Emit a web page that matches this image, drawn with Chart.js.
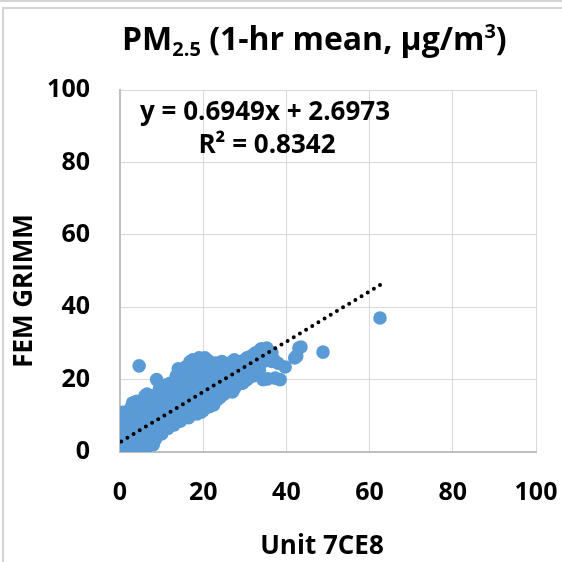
<!DOCTYPE html>
<html>
<head>
<meta charset="utf-8">
<script src="https://cdn.jsdelivr.net/npm/chart.js@4.4.1/dist/chart.umd.min.js"></script>
<style>
  html, body { margin: 0; padding: 0; background: #fff; }
  #wrap { width: 562px; height: 562px; }
</style>
</head>
<body>
<div id="wrap"><canvas id="chart" width="562" height="562"></canvas></div>
<script>
// Unit 7CE8 (x) vs FEM GRIMM (y), 1-hr mean PM2.5
const xVals = [
  0.2, 0.3, 0.5, 0.2, 0.6, 0.4, 0.8, 0.5, 0.7, 1.2, 1.5, 1.3, 1.8, 1.6, 2.0, 1.0,
  2.5, 3.0, 2.8, 3.5, 3.2, 3.8, 4.0, 4.5, 4.2, 4.8, 5.0, 4.6, 5.2, 5.0, 5.5, 5.3, 6.0, 4.6,
  6.0, 6.5, 7.0, 6.8, 7.2, 7.5, 7.0, 7.8, 8.0, 6.5, 8.0, 8.5, 9.0, 8.8, 9.3, 9.5, 9.0, 9.8, 10.0, 8.8, 9.5, 10.5, 11.0, 10.8,
  11.5, 11.0, 12.0, 11.8, 12.5, 12.0, 12.5, 13.0, 13.5, 13.0, 14.0, 13.5, 14.5, 14.0, 15.0, 14.5, 15.0, 15.5, 16.0, 15.8, 16.5, 16.0, 16.8, 16.5, 17.0, 16.8, 17.5, 15.8,
  17.5, 18.0, 18.5, 18.0, 19.0, 18.5, 19.5, 19.0, 20.0, 20.4, 19.5, 20.0, 20.5, 21.0, 20.8, 21.5, 21.0, 22.0, 21.5, 22.4, 21.0, 23.3,
  22.5, 23.3, 23.0, 24.0, 23.5, 24.5, 24.0, 25.0, 25.5, 26.0, 25.5, 26.5, 26.9, 27.0, 27.5, 28.0, 28.5, 28.0, 29.0, 29.5, 30.0, 30.5, 30.0, 31.0, 31.5, 32.0, 32.5, 32.5, 33.0, 33.7, 34.0, 34.5, 35.3, 35.5, 36.0, 36.5, 37.0, 38.0,
  2.5, 3.0, 6.0, 10.0, 11.0, 12.0, 13.5, 13.5, 12.8, 14.0, 16.5, 18.0, 18.5, 17.5, 19.0, 20.5, 22.0, 23.5, 25.0, 24.5, 26.0, 27.5, 28.0, 29.0, 30.0, 31.5, 33.0, 34.0, 35.0, 36.5,
  10.0, 11.5, 13.0, 14.5, 16.5, 18.5, 19.5, 21.5, 22.0, 24.0, 25.5, 26.0, 27.5, 29.5, 30.5, 32.0, 33.5, 33.0,
  1.0, 2.0, 3.5, 5.0, 6.0, 7.0, 8.5, 9.5, 3.5, 5.5, 6.5, 4.0,
  34.4, 35.5, 37.3, 38.5, 39.7, 42.0, 42.5, 43.0, 43.5, 48.8, 62.5
];
const yVals = [
  0.5, 1.5, 2.5, 3.5, 4.5, 6.0, 7.5, 9.0, 11.0, 1.0, 2.5, 4.0, 5.5, 7.0, 8.5, 10.0,
  1.5, 3.0, 5.0, 6.5, 8.0, 9.5, 11.0, 12.0, 2.5, 4.0, 5.5, 7.0, 8.5, 10.0, 11.5, 13.0, 14.5, 23.8,
  3.0, 5.0, 6.5, 8.0, 9.5, 11.0, 12.5, 14.0, 15.5, 16.0, 2.0, 5.0, 7.0, 8.5, 10.0, 12.0, 13.5, 15.0, 16.5, 20.0, 17.5, 6.0, 8.0, 9.5,
  11.0, 12.5, 14.0, 15.5, 17.0, 18.0, 7.5, 9.0, 10.5, 12.0, 13.5, 15.0, 16.5, 18.0, 19.5, 20.5, 22.6, 9.5, 11.0, 12.5, 14.0, 15.5, 17.0, 18.5, 20.0, 24.9, 22.0, 23.5,
  10.5, 12.0, 13.5, 15.0, 16.5, 18.0, 19.5, 21.0, 22.5, 26.0, 24.5, 11.5, 13.0, 14.5, 16.0, 17.5, 19.0, 20.5, 22.0, 24.6, 25.4, 24.6,
  13.0, 14.4, 16.0, 17.5, 19.0, 20.5, 22.0, 16.0, 18.0, 19.5, 21.0, 22.5, 24.9, 16.6, 18.5, 20.0, 21.5, 23.0, 19.0, 21.0, 22.5, 26.0, 24.0, 20.5, 22.0, 23.5, 25.0, 27.3, 24.0, 28.2, 26.5, 25.0, 28.7, 27.0, 26.0, 25.0, 25.5, 24.5,
  12.0, 13.5, 15.5, 17.5, 18.5, 19.0, 21.0, 19.0, 16.0, 23.0, 21.5, 23.5, 25.5, 25.5, 26.0, 24.0, 23.0, 23.5, 23.5, 25.0, 24.0, 25.5, 24.5, 25.0, 25.5, 26.5, 27.0, 28.5, 28.0, 27.5,
  5.0, 6.5, 7.5, 8.5, 9.5, 10.5, 11.0, 12.5, 14.0, 15.0, 16.5, 18.0, 17.5, 19.0, 20.0, 21.0, 22.5, 23.0,
  0.5, 1.0, 1.5, 2.5, 2.0, 3.5, 3.5, 5.0, 0.8, 1.2, 1.5, 14.0,
  20.0, 20.2, 20.4, 20.0, 23.5, 26.0, 26.5, 28.7, 29.0, 27.6, 37.0
];
const axisTicks = [0, 20, 40, 60, 80, 100];
// Excel linear trendline as printed on the chart
const trendSlope = 0.6949;
const trendIntercept = 2.6973;
const trendFrom = 0.3, trendTo = 63;

const points = xVals.map((x, i) => ({ x: x, y: yVals[i] }));
const trend = [trendFrom, trendTo].map(x => ({ x: x, y: trendSlope * x + trendIntercept }));

const FONT = '"Open Sans"';
Chart.defaults.font.family = FONT;
Chart.defaults.color = '#000';

const textPlugin = {
  id: 'texts',
  beforeDraw(chart) {
    const c = chart.ctx;
    c.save();
    c.strokeStyle = '#d4d4d4';
    c.lineWidth = 2;
    c.beginPath();
    c.moveTo(0, 1); c.lineTo(562, 1);
    c.moveTo(3, 562); c.lineTo(3, 8); c.lineTo(562, 8);
    c.stroke();
    c.restore();
  },
  afterDraw(chart) {
    const c = chart.ctx;
    c.save();
    c.fillStyle = '#000';
    c.textBaseline = 'alphabetic';
    c.textAlign = 'left';
    // title with subscript / superscript
    let x = 122;
    const base = 50;
    const big = 'bold 32px ' + FONT, small = 'bold 20px ' + FONT;
    c.font = big;
    c.fillText('PM', x, base); x += c.measureText('PM').width;
    c.font = small;
    c.fillText('2.5', x, base + 6); x += c.measureText('2.5').width;
    c.font = big;
    c.fillText(' (1-hr mean, \u00b5g/m', x, base); x += c.measureText(' (1-hr mean, \u00b5g/m').width;
    c.font = small;
    c.fillText('3', x, base - 12); x += c.measureText('3').width;
    c.font = big;
    c.fillText(')', x, base);

    // trendline equation
    c.textAlign = 'center';
    c.font = 'bold 26px ' + FONT;
    c.fillText('y = 0.6949x + 2.6973', 265, 120);
    c.fillText('R\u00b2 = 0.8342', 267, 153);

    // axis titles
    c.textBaseline = 'middle';
    c.font = 'bold 26px ' + FONT;
    c.fillText('Unit 7CE8', 322, 547);
    c.translate(25, 291);
    c.rotate(-Math.PI / 2);
    c.fillText('FEM GRIMM', 0, 0);
    c.restore();
  }
};

new Chart(document.getElementById('chart'), {
  type: 'scatter',
  data: {
    datasets: [
      {
        type: 'line',
        label: 'Linear trend',
        data: trend,
        borderColor: '#000',
        borderWidth: 4,
        borderDash: [0, 7.2],
        borderCapStyle: 'round',
        pointRadius: 0,
        fill: false,
        order: 0
      },
      {
        label: 'PM2.5',
        data: points,
        backgroundColor: '#5b9bd5',
        borderColor: '#5b9bd5',
        borderWidth: 0,
        pointRadius: 6.8,
        pointHoverRadius: 6.8,
        order: 1
      }
    ]
  },
  options: {
    responsive: false,
    animation: false,
    events: [],
    layout: { padding: { top: 90, right: 26, left: 0, bottom: 0 } },
    plugins: { legend: { display: false }, tooltip: { enabled: false }, title: { display: false } },
    scales: {
      x: {
        type: 'linear',
        min: 0, max: 100,
        afterBuildTicks(s) { s.ticks = axisTicks.map(v => ({ value: v })); },
        ticks: { font: { size: 25, weight: 'bold' }, color: '#000', padding: 26 },
        grid: { color: '#d9d9d9', lineWidth: 1, drawTicks: false },
        border: { color: '#bfbfbf', width: 2 },
        afterFit(s) { s.height = 110; s.paddingLeft = 0; s.paddingRight = 0; }
      },
      y: {
        type: 'linear',
        min: 0, max: 100,
        afterBuildTicks(s) { s.ticks = axisTicks.map(v => ({ value: v })); },
        ticks: { font: { size: 25, weight: 'bold' }, color: '#000', padding: 30 },
        grid: { color: '#d9d9d9', lineWidth: 1, drawTicks: false },
        border: { color: '#bfbfbf', width: 2 },
        afterFit(s) { s.width = 120; s.paddingTop = 0; s.paddingBottom = 0; }
      }
    }
  },
  plugins: [textPlugin]
});
</script>
</body>
</html>
